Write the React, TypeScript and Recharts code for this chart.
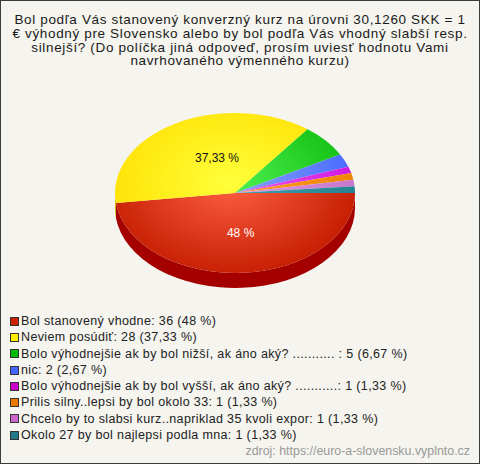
import { PieChart, Pie, Cell } from "recharts";

const titleLines = [
  "Bol podľa Vás stanovený konverzný kurz na úrovni 30,1260 SKK = 1",
  "€ výhodný pre Slovensko alebo by bol podľa Vás vhodný slabší resp.",
  "silnejší? (Do políčka jiná odpoveď, prosím uviesť hodnotu Vami",
  "navrhovaného výmenného kurzu)",
];

const categories = [
  "Bol stanovený vhodne",
  "Neviem posúdiť",
  "Bolo výhodnejšie ak by bol nižší, ak áno aký? ........... ",
  "nic",
  "Bolo výhodnejšie ak by bol vyšší, ak áno aký? ...........",
  "Prilis silny..lepsi by bol okolo 33",
  "Chcelo by to slabsi kurz..napriklad 35 kvoli expor",
  "Okolo 27 by bol najlepsi podla mna",
];
const counts = [36, 28, 5, 2, 1, 1, 1, 1];
const percents = ["48", "37,33", "6,67", "2,67", "1,33", "1,33", "1,33", "1,33"];

const baseColors = ["#c41c00", "#ffdf00", "#0cbc0c", "#4466ff", "#cc10dd", "#ee8000", "#c474c8", "#23808e"];
const hiColors = ["#ff6042", "#ffff3a", "#50f050", "#88a4ff", "#f060f0", "#ffa42a", "#e49ae4", "#40a4b4"];
const sideColors = ["#a40000", "#d4b400", "#089008", "#2a44cc", "#9a00a8", "#b85c00", "#9a5aa0", "#155a66"];
const legendColors = ["#cc2200", "#ffee00", "#00bb00", "#4466ff", "#cc00cc", "#ee7700", "#cc66cc", "#227788"];

const data = categories.map((name, i) => ({ name, value: counts[i] }));

const CX = 230;
const CY = 188;
const RX = 120;
const RY = 80;
const DEPTH = 15;
const RAD = Math.PI / 180;

// screen angle: clockwise from 3 o'clock
const ep = (cx: number, cy: number, t: number) => [cx + RX * Math.cos(t * RAD), cy + RY * Math.sin(t * RAD)];

function TopSlice(props: any) {
  const { cx, cy, startAngle, endAngle, fill } = props;
  const a = -startAngle;
  const b = -endAngle;
  const [x1, y1] = ep(cx, cy, a);
  const [x2, y2] = ep(cx, cy, b);
  const large = b - a > 180 ? 1 : 0;
  const d = `M${cx},${cy} L${x1},${y1} A${RX},${RY} 0 ${large} 1 ${x2},${y2} Z`;
  return <path d={d} fill={fill} stroke="none" />;
}

function SideSlice(props: any) {
  const { cx, cy, startAngle, endAngle, fill } = props;
  const a = Math.max(-startAngle, 0);
  const b = Math.min(-endAngle, 180);
  if (b <= a) return null;
  const [x1, y1] = ep(cx, cy, a);
  const [x2, y2] = ep(cx, cy, b);
  const d =
    `M${x1},${y1} A${RX},${RY} 0 0 1 ${x2},${y2} L${x2},${y2 + DEPTH} ` +
    `A${RX},${RY} 0 0 0 ${x1},${y1 + DEPTH} Z`;
  return <path d={d} fill={fill} stroke="none" />;
}

function renderLabel(props: any) {
  const { cx, cy, midAngle, percent, index } = props;
  if (percent < 0.1) return null;
  const t = -midAngle;
  const x = cx + RX * 0.35 * Math.cos(t * RAD) + 3;
  const y = cy + RY * 0.5 * Math.sin(t * RAD);
  return (
    <text
      x={x}
      y={y}
      textAnchor="middle"
      dominantBaseline="central"
      fontSize={12}
      fontFamily="'Liberation Sans', Arial, sans-serif"
      fill={index === 0 ? "#ffffff" : "#111111"}
    >
      {percents[index]} %
    </text>
  );
}

export default function App() {
  return (
    <div
      style={{
        position: "absolute",
        left: 0,
        top: 0,
        width: 480,
        height: 464,
        boxSizing: "border-box",
        border: "1px solid #3c3c3c",
        background: "#f5f4ee",
        fontFamily: "'Liberation Sans', Arial, sans-serif",
        overflow: "hidden",
      }}
    >
      <div style={{ position: "absolute", left: 0, top: 12, width: 478, textAlign: "center", fontSize: 13.5, letterSpacing: 0.65, lineHeight: "13.8px", color: "#1a1a1a" }}>
        {titleLines.map((l) => (
          <div key={l} style={{ whiteSpace: "nowrap" }}>{l}</div>
        ))}
      </div>
      <div style={{ position: "absolute", left: -1, top: -1 }}>
        <PieChart width={480} height={310}>
          <defs>
            {baseColors.map((c, i) => (
              <radialGradient
                key={c}
                id={`g${i}`}
                gradientUnits="userSpaceOnUse"
                cx={CX}
                cy={CY - 8}
                r={135}
                gradientTransform={`translate(0 ${CY}) scale(1 0.72) translate(0 ${-CY})`}
              >
                <stop offset="0%" stopColor={hiColors[i]} />
                <stop offset="100%" stopColor={c} />
              </radialGradient>
            ))}
          </defs>
          <Pie
            data={data}
            dataKey="value"
            cx={CX}
            cy={CY}
            outerRadius={RX}
            startAngle={0}
            endAngle={-360}
            stroke="none"
            shape={SideSlice}
            isAnimationActive={false}
          >
            {data.map((d, i) => (
              <Cell key={d.name} fill={sideColors[i]} />
            ))}
          </Pie>
          <Pie
            data={data}
            dataKey="value"
            cx={CX}
            cy={CY}
            outerRadius={RX}
            startAngle={0}
            endAngle={-360}
            stroke="none"
            shape={TopSlice}
            label={renderLabel}
            labelLine={false}
            isAnimationActive={false}
          >
            {data.map((d, i) => (
              <Cell key={d.name} fill={`url(#g${i})`} />
            ))}
          </Pie>
        </PieChart>
      </div>
      <div style={{ position: "absolute", left: 9, top: 312, fontSize: 12.5, letterSpacing: 0.36, color: "#222" }}>
        {categories.map((c, i) => (
          <div key={c} style={{ height: 16.3, lineHeight: "16.3px", display: "flex", alignItems: "center", whiteSpace: "pre" }}>
            <span style={{ display: "inline-block", width: 7, height: 7, border: "1px solid #333", background: legendColors[i], marginRight: 2 }} />
            {`${c}: ${counts[i]} (${percents[i]} %)`}
          </div>
        ))}
      </div>
      <div style={{ position: "absolute", right: 9, top: 443, fontSize: 12.4, color: "#999" }}>
        zdroj: https://euro-a-slovensku.vyplnto.cz
      </div>
    </div>
  );
}
